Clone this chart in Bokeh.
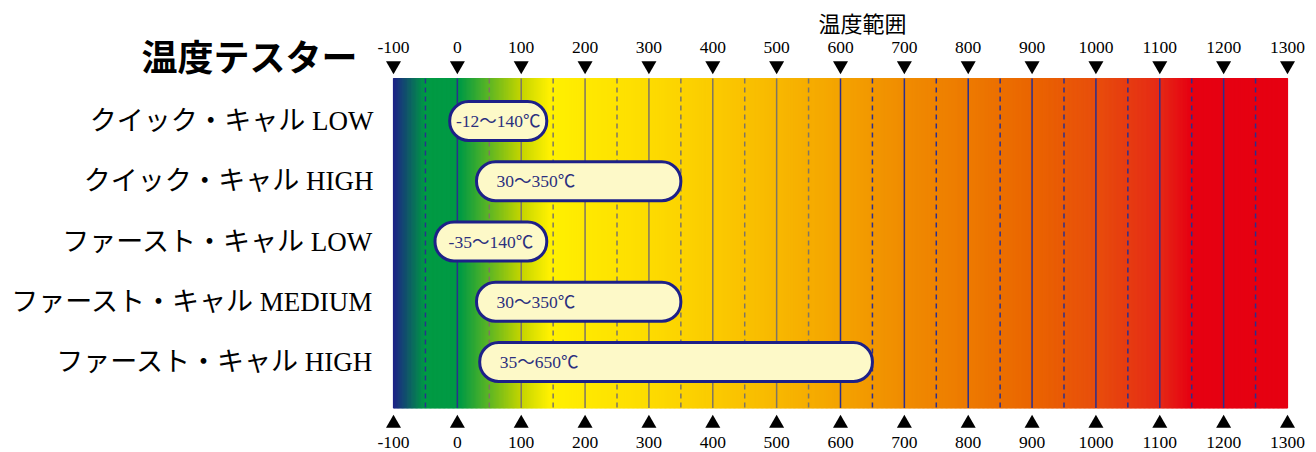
import numpy as np
from bokeh.plotting import figure
from bokeh.models import Range1d
from bokeh.core.properties import value
from bokeh.embed import file_html
from bokeh.resources import INLINE

# ---- data ----
title_text = "温度テスター"
axis_title = "温度範囲"
models = ["クイック・キャル LOW", "クイック・キャル HIGH", "ファースト・キャル LOW",
          "ファースト・キャル MEDIUM", "ファースト・キャル HIGH"]
range_low = [-12, 30, -35, 30, 35]
range_high = [140, 350, 140, 350, 650]
range_labels = ["-12～140℃", "30～350℃", "-35～140℃", "30～350℃", "35～650℃"]
tick_values = [-100, 0, 100, 200, 300, 400, 500, 600, 700, 800, 900, 1000, 1100, 1200, 1300]
tick_labels = [str(v) for v in tick_values]
# gradient stops (temperature -> colour)
grad_temps = [-100, -50, 5, 100, 145, 200, 300, 400, 500, 600, 700, 800, 900, 1000, 1100, 1150, 1300]
grad_colors = ["#1d2088", "#009a44", "#009a44", "#c3d400", "#fff100", "#ffe900", "#fddc00",
               "#fbcb00", "#f8b800", "#f4a300", "#f08c00", "#ed7a00", "#ea6500", "#e84e0c",
               "#e52a16", "#e60012", "#e60012"]

# ---- layout helpers ----
W, H = 1316, 452
X0, X1 = -100, 1300
PX_LEFT, PX_RIGHT = 393, 1287
scale = (PX_RIGHT - PX_LEFT) / (X1 - X0)
ROW0_PX, ROW_PX = 120.5, 60.25
def row(px):
    return (px - ROW0_PX) / ROW_PX

p = figure(width=W, height=H, output_backend="svg", toolbar_location=None,
           x_axis_location=None, y_axis_location=None, min_border=0,
           x_range=Range1d(X0 - PX_LEFT / scale, X0 + (W - PX_LEFT) / scale),
           y_range=Range1d(row(H), row(0)))
p.outline_line_color = None
p.grid.visible = False
p.background_fill_color = "white"
p.border_fill_color = "white"

SERIF = value("'Liberation Serif', 'Noto Sans CJK JP'")
CJK = value("Noto Sans CJK JP")

# ---- gradient background ----
def hex2rgb(h):
    return [int(h[i:i + 2], 16) for i in (1, 3, 5)]
rgb = np.array([hex2rgb(c) for c in grad_colors], dtype=float)
step = 2
edges = np.arange(X0, X1, step)
centers = edges + step / 2
cols = []
for c in centers:
    r = np.interp(c, grad_temps, rgb[:, 0])
    g = np.interp(c, grad_temps, rgb[:, 1])
    b = np.interp(c, grad_temps, rgb[:, 2])
    cols.append("#%02x%02x%02x" % (int(round(r)), int(round(g)), int(round(b))))
g_top, g_bot = row(78), row(407.5)
p.quad(left=edges, right=edges + step, top=g_top, bottom=g_bot,
       fill_color=cols, line_color=cols, line_width=1.2)

# ---- grid lines ----
NAVY_LINE, GRAY_LINE = "#2a2f8f", "#7d7565"
solid_x = [v for v in tick_values if X0 < v < X1]
dash_x = [v + 50 for v in tick_values if v + 50 < X1]
def lcol(v):
    return GRAY_LINE if 50 <= v <= 550 else NAVY_LINE
p.segment(x0=solid_x, x1=solid_x, y0=g_top, y1=g_bot,
          line_color=[lcol(v) for v in solid_x], line_width=1.5)
p.segment(x0=dash_x, x1=dash_x, y0=g_top, y1=g_bot,
          line_color=[lcol(v) for v in dash_x], line_width=1.5, line_dash="5 4")

# ---- range pills ----
ys = list(range(len(models)))
p.hbar(y=ys, left=range_low, right=range_high, height=39 / ROW_PX,
       fill_color="#fdf9c8", line_color="#1d2088", line_width=3, border_radius=19)

short = [i for i in ys if range_high[i] - range_low[i] <= 200]
long_ = [i for i in ys if range_high[i] - range_low[i] > 200]
p.text(x=[(range_low[i] + range_high[i]) / 2 for i in short], y=[ys[i] for i in short],
       text=[range_labels[i] for i in short], text_align="center", text_baseline="middle",
       text_font=SERIF, text_font_size="17.5px", text_color="#2b2f7e")
p.text(x=[range_low[i] for i in long_], y=[ys[i] for i in long_],
       text=[range_labels[i] for i in long_], x_offset=20, text_align="left",
       text_baseline="middle", text_font=SERIF, text_font_size="17.5px", text_color="#2b2f7e")

# ---- row labels ----
p.text(x=[X0] * len(models), y=ys, text=models, x_offset=-20, text_align="right",
       text_baseline="middle", text_font=SERIF, text_font_size="27px", text_color="black")

# ---- top / bottom scales ----
n = len(tick_values)
p.scatter(x=tick_values, y=[row(65)] * n, marker="inverted_triangle", size=15,
          fill_color="black", line_color=None)
p.scatter(x=tick_values, y=[row(423)] * n, marker="triangle", size=15,
          fill_color="black", line_color=None)
p.text(x=tick_values, y=[row(47)] * n, text=tick_labels, text_align="center",
       text_baseline="middle", text_font=SERIF, text_font_size="17.5px", text_color="black")
p.text(x=tick_values, y=[row(442)] * n, text=tick_labels, text_align="center",
       text_baseline="middle", text_font=SERIF, text_font_size="17.5px", text_color="black")

# ---- titles ----
p.text(x=[X0], y=[row(54.5)], text=[title_text], x_offset=-36, text_align="right",
       text_baseline="middle", text_font=CJK, text_font_size="36px",
       text_font_style="bold", text_color="black")
p.text(x=[(X0 + X1) / 2], y=[row(21)], text=[axis_title], x_offset=22, text_align="center",
       text_baseline="middle", text_font=CJK, text_font_size="22px", text_color="black")

open("out.html", "w").write(file_html(p, INLINE))
